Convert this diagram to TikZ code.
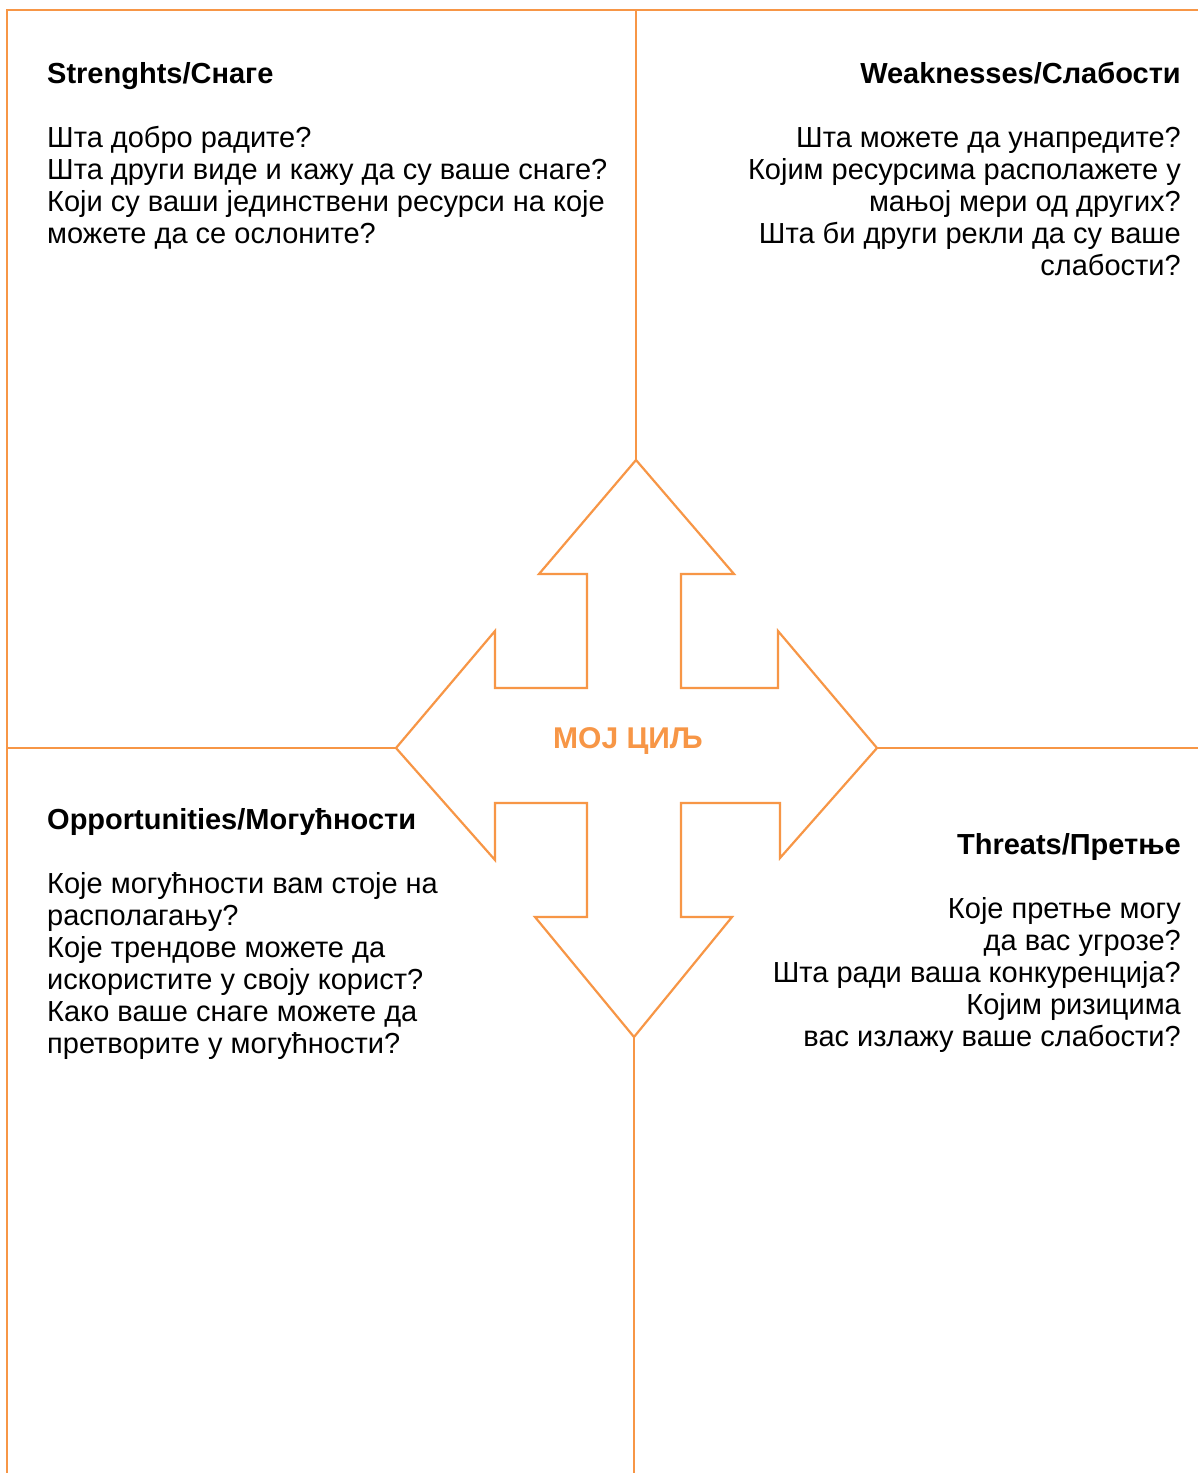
\documentclass[tikz,border=0pt]{standalone}
\usepackage{fontspec}
\setmainfont{Liberation Sans}
\definecolor{swotorange}{HTML}{F79646}
\begin{document}
\begin{tikzpicture}[x=1pt,y=-1pt,
  frame/.style={draw=swotorange,line width=2.2pt},
  txt/.style={inner sep=0pt,font=\fontsize{29}{32}\selectfont},
  ttl/.style={inner sep=0pt,font=\fontsize{29}{32}\selectfont\bfseries},
  goal/.style={inner sep=0pt,font=\fontsize{30}{32}\selectfont\bfseries,text=swotorange}]
\useasboundingbox[fill=white] (0,0) rectangle (1198,1473);
% frame lines
\draw[frame] (7,1473) -- (7,10) -- (1198,10);
% arrow-cross tips
\coordinate (ttip) at (636,460);
\coordinate (ltip) at (396,748);
\coordinate (btip) at (634,1037);
\coordinate (rtip) at (877,748);
\coordinate (topend) at (636,10);
\coordinate (botend) at (634,1473);
\coordinate (leftend) at (7,748);
\coordinate (rightend) at (1198,748);
\draw[frame] (topend) -- (ttip);
\draw[frame] (btip) -- (botend);
\draw[frame] (leftend) -- (ltip);
\draw[frame] (rtip) -- (rightend);
% four-way arrow
\draw[frame,line join=miter] (ttip) -- (734,574) -- (681,574) -- (681,688) -- (778,688) -- (778,631)
  -- (rtip) -- (780,858) -- (780,803) -- (681,803) -- (681,917) -- (732,917)
  -- (btip) -- (535,917) -- (587,917) -- (587,803) -- (495,803) -- (495,860)
  -- (ltip) -- (495,631) -- (495,688) -- (587,688) -- (587,574) -- (539,574) -- cycle;
\node[goal] (goaltext) at (628,741) {МОЈ ЦИЉ};
% Strengths
\node[ttl,anchor=base west] (sT) at (47,83) {Strenghts/Снаге};
\node[txt,anchor=base west,align=left] (sB) at (47,243) {Шта добро радите?\\Шта други виде и кажу да су ваше снаге?\\Који су ваши јединствени ресурси на које\\можете да се ослоните?};
% Weaknesses
\node[ttl,anchor=base east] (wT) at (1181,83) {Weaknesses/Слабости};
\node[txt,anchor=base east,align=right] (wB) at (1181,275) {Шта можете да унапредите?\\Којим ресурсима располажете у\\мањој мери од других?\\Шта би други рекли да су ваше\\слабости?};
% Opportunities
\node[ttl,anchor=base west] (oT) at (47,829) {Opportunities/Могућности};
\node[txt,anchor=base west,align=left] (oB) at (47,1053) {Које могућности вам стоје на\\располагању?\\Које трендове можете да\\искористите у своју корист?\\Како ваше снаге можете да\\претворите у могућности?};
% Threats
\node[ttl,anchor=base east] (thT) at (1181,854) {Threats/Претње};
\node[txt,anchor=base east,align=right] (thB) at (1181,1046) {Које претње могу\\да вас угрозе?\\Шта ради ваша конкуренција?\\Којим ризицима\\вас излажу ваше слабости?};
\end{tikzpicture}
\end{document}
